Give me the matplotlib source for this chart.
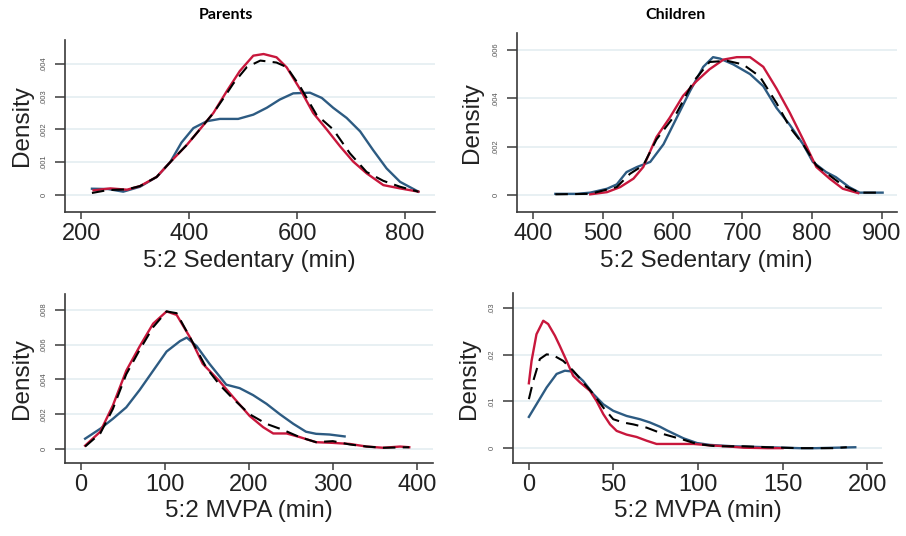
import numpy as np
import matplotlib
matplotlib.use("Agg")
import matplotlib.pyplot as plt

plt.rcParams['font.family'] = ['Liberation Sans', 'DejaVu Sans']

RED = "#c8173c"
BLUE = "#2d5b82"
GRID = "#e6eff2"
SPINE = "#3a3a3a"

# --- parents, sedentary (min) ---
p_sed_red_x = [223, 254, 285, 309, 340, 365, 396, 420, 445, 470, 494, 519, 538, 562, 581, 606, 630, 655, 680, 704, 729, 760, 791, 825]
p_sed_red_y = [.00014, .0002, .00016, .00027, .00055, .001, .00153, .002, .0025, .00317, .00378, .00425, .0043, .0042, .00389, .00322, .0025, .002, .00148, .00102, .00066, .0003, .0002, .0001]
p_sed_blue_x = [220, 250, 278, 309, 340, 365, 386, 408, 433, 457, 491, 519, 544, 568, 593, 624, 646, 667, 692, 717, 741, 766, 791, 825]
p_sed_blue_y = [.00019, .00018, .0001, .00025, .00055, .001, .0016, .00204, .00225, .00232, .00232, .00245, .00266, .00291, .0031, .00312, .00296, .00266, .00235, .00194, .00137, .00081, .0004, .0001]
p_sed_all_x = [220, 250, 285, 309, 340, 365, 396, 420, 445, 470, 482, 507, 532, 562, 581, 606, 636, 667, 698, 729, 760, 791, 825]
p_sed_all_y = [.00006, .00015, .00017, .00027, .00055, .001, .00153, .002, .0025, .0031, .0034, .0039, .0041, .00404, .0039, .0033, .00245, .002, .00127, .0007, .00043, .00025, .0001]

# --- children, sedentary (min) ---
c_sed_red_x = [482, 506, 525, 544, 558, 577, 596, 615, 634, 653, 673, 692, 711, 730, 749, 768, 787, 806, 825, 844, 866]
c_sed_red_y = [.00003, .00012, .00033, .00068, .00116, .0024, .0032, .0041, .0047, .0052, .0056, .0057, .0057, .0053, .0044, .0034, .0023, .00116, .00068, .00026, .00008]
c_sed_blue_x = [432, 463, 482, 506, 520, 534, 549, 568, 587, 606, 625, 644, 658, 668, 687, 711, 730, 749, 768, 787, 801, 820, 834, 853, 868, 901]
c_sed_blue_y = [.00005, .00005, .0001, .00026, .00044, .00095, .00116, .00137, .0021, .0032, .0043, .0053, .0057, .00564, .0054, .005, .0045, .0036, .0029, .0021, .00137, .00095, .00074, .00033, .0001, .0001]
c_sed_all_x = [432, 482, 520, 539, 558, 577, 606, 630, 653, 678, 701, 725, 749, 768, 787, 806, 825, 844, 868, 901]
c_sed_all_y = [.00003, .00005, .00033, .00088, .00123, .0023, .0034, .0047, .0055, .00555, .0054, .0049, .0038, .0028, .0021, .00123, .00081, .0004, .0001, .0001]

# --- parents, MVPA (min) ---
p_mv_red_x = [5, 23, 38, 54, 70, 86, 102, 114, 130, 145, 165, 181, 201, 217, 229, 245, 260, 280, 300, 320, 340, 360, 380, 391]
p_mv_red_y = [.0002, .001, .0025, .0045, .0059, .0072, .0079, .0077, .0064, .0049, .0039, .003, .0019, .00126, .0009, .0009, .0007, .0004, .00036, .0003, .00015, .00008, .00015, .00011]
p_mv_blue_x = [5, 23, 38, 54, 70, 86, 102, 118, 126, 138, 153, 173, 189, 205, 221, 237, 253, 268, 280, 296, 314]
p_mv_blue_y = [.0006, .00117, .00174, .0024, .0034, .0045, .0056, .0062, .0064, .0059, .0049, .0037, .0035, .0031, .0026, .002, .00145, .001, .00088, .00084, .00073]
p_mv_all_x = [5, 23, 38, 54, 70, 86, 102, 114, 130, 149, 165, 181, 201, 221, 241, 260, 280, 300, 320, 340, 360, 391]
p_mv_all_y = [.00015, .0009, .0023, .0043, .0057, .007, .0079, .0078, .0064, .0047, .0037, .0029, .002, .00145, .0011, .0007, .0004, .00046, .00027, .00015, .00008, .00011]

# --- children, MVPA (min) ---
c_mv_red_x = [0, 1.6, 4.5, 8.5, 11.4, 15.4, 18.3, 22.3, 26.2, 30.2, 36.1, 40, 44, 48, 51.9, 57.8, 63.7, 69.6, 75.5, 87.6, 97.4, 107, 117, 127, 141, 150]
c_mv_red_y = [.0139, .0187, .0244, .0273, .0266, .0241, .0219, .0187, .0155, .0141, .0123, .0101, .0073, .0051, .0037, .0029, .0024, .0016, .0009, .0009, .0009, .0006, .0004, .0001, 0, 0]
c_mv_blue_x = [0, 4.5, 10.5, 16.4, 21.3, 26.2, 32.1, 38.1, 44, 49.9, 57.8, 65.7, 71.6, 77.5, 81.7, 91.5, 99.4, 107, 121, 141, 160, 170, 193]
c_mv_blue_y = [.0067, .0094, .013, .0159, .0166, .0164, .0144, .0116, .0094, .008, .0069, .0062, .0055, .0046, .0038, .0021, .0011, .0007, .0004, .0002, 0, 0, .0002]
c_mv_all_x = [0, 2.6, 6.5, 10.5, 14.4, 20.3, 26.2, 32.1, 38.1, 44, 49.9, 55.8, 61.7, 69.6, 79.7, 91.5, 99.4, 111, 127, 141, 160, 180, 188]
c_mv_all_y = [.0105, .0144, .0191, .0201, .0199, .0187, .0166, .0141, .0116, .0087, .0062, .0055, .0051, .0044, .003, .0018, .0009, .0004, .0004, .0002, 0, 0, .0002]

panels = [
    dict(rect=[0.0717, 0.6045, 0.408, 0.321], xlim=(170, 855), ylim=(-0.00052, 0.00473),
         xticks=[200, 400, 600, 800], yticks=[0, .001, .002, .003, .004],
         ylabels=["0", ".001", ".002", ".003", ".004"], xlabel="5:2 Sedentary (min)",
         red=(p_sed_red_x, p_sed_red_y), blue=(p_sed_blue_x, p_sed_blue_y), all=(p_sed_all_x, p_sed_all_y),
         ylab_x=-0.086, xlab_y=-0.22),
    dict(rect=[0.5706, 0.6045, 0.419, 0.334], xlim=(377, 921), ylim=(-0.0007, 0.0067),
         xticks=[400, 500, 600, 700, 800, 900], yticks=[0, .002, .004, .006],
         ylabels=["0", ".002", ".004", ".006"], xlabel="5:2 Sedentary (min)",
         red=(c_sed_red_x, c_sed_red_y), blue=(c_sed_blue_x, c_sed_blue_y), all=(c_sed_all_x, c_sed_all_y),
         ylab_x=-0.089, xlab_y=-0.21),
    dict(rect=[0.0717, 0.136, 0.406, 0.3155], xlim=(-19, 419), ylim=(-0.0008, 0.0089),
         xticks=[0, 100, 200, 300, 400], yticks=[0, .002, .004, .006, .008],
         ylabels=["0", ".002", ".004", ".006", ".008"], xlabel="5:2 MVPA (min)",
         red=(p_mv_red_x, p_mv_red_y), blue=(p_mv_blue_x, p_mv_blue_y), all=(p_mv_all_x, p_mv_all_y),
         ylab_x=-0.087, xlab_y=-0.22),
    dict(rect=[0.566, 0.136, 0.4075, 0.317], xlim=(-9.5, 208.8), ylim=(-0.0032, 0.0332),
         xticks=[0, 50, 100, 150, 200], yticks=[0, .01, .02, .03],
         ylabels=["0", ".01", ".02", ".03"], xlabel="5:2 MVPA (min)",
         red=(c_mv_red_x, c_mv_red_y), blue=(c_mv_blue_x, c_mv_blue_y), all=(c_mv_all_x, c_mv_all_y),
         ylab_x=-0.089, xlab_y=-0.22),
]

fig = plt.figure(figsize=(9.06, 5.36), dpi=100)

for p in panels:
    ax = fig.add_axes(p["rect"])
    for yt in p["yticks"]:
        ax.axhline(yt, color=GRID, lw=1.3, zorder=0)
    ax.plot(*p["blue"], color=BLUE, lw=1.7, zorder=2)
    ax.plot(*p["red"], color=RED, lw=1.7, zorder=3)
    ax.plot(*p["all"], color="black", lw=1.5, ls=(0, (6, 3.5)), zorder=4)
    ax.set_xlim(*p["xlim"])
    ax.set_ylim(*p["ylim"])
    ax.set_xticks(p["xticks"])
    ax.set_yticks(p["yticks"])
    ax.set_yticklabels(p["ylabels"], rotation=90, va="center")
    ax.tick_params(axis="y", labelsize=5.5, length=7, width=1.1, pad=5.5, colors=SPINE, labelcolor="#555555")
    ax.tick_params(axis="x", labelsize=17, length=5, width=1.1, pad=3, colors=SPINE, labelcolor="#222222")
    for s in ["top", "right"]:
        ax.spines[s].set_visible(False)
    for s in ["left", "bottom"]:
        ax.spines[s].set_color(SPINE)
        ax.spines[s].set_linewidth(1.2)
    ax.set_ylabel("Density", fontsize=17.5, color="#222222")
    ax.yaxis.set_label_coords(p["ylab_x"], 0.5)
    ax.set_xlabel(p["xlabel"], fontsize=17.5, color="#222222")
    ax.xaxis.set_label_coords(0.5, p["xlab_y"])

fig.text(226 / 906, 1 - 15 / 536, "Parents", ha="center", va="center",
         fontsize=11.5, fontweight="bold", family=["Lato", "DejaVu Sans"])
fig.text(675 / 906, 1 - 15 / 536, "Children", ha="center", va="center",
         fontsize=11.5, fontweight="bold", family=["Lato", "DejaVu Sans"])

fig.savefig("out.png", dpi=100)
